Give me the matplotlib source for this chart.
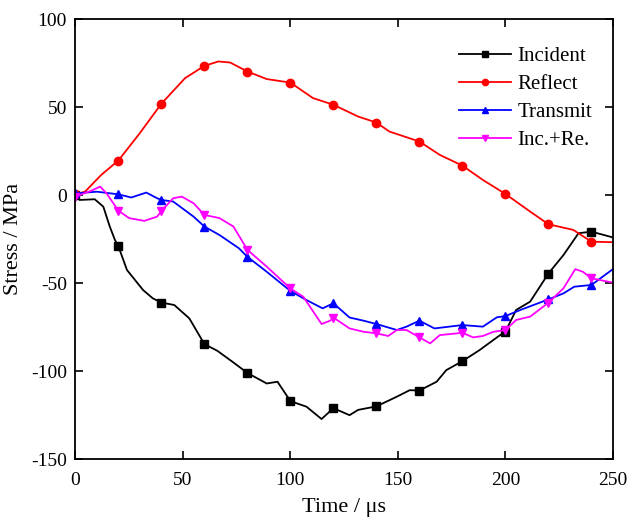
import numpy as np
import matplotlib
matplotlib.use("Agg")
import matplotlib.pyplot as plt

plt.rcParams["font.family"] = ["Liberation Serif", "DejaVu Serif"]
plt.rcParams["axes.unicode_minus"] = False

# Incident
t_inc = [0, 2, 9, 13, 16, 18.4, 20, 24, 31.5, 36, 40, 46, 53, 60, 66, 73, 80, 89, 94,
         100, 107.5, 114.5, 120, 127.5, 131.5, 140, 149.5, 155.5, 160, 168, 172.5, 180,
         188, 196.5, 200, 205, 211.5, 220, 227, 234, 240, 250]
y_inc = [0, -2.7, -2.3, -6.5, -17.8, -25.4, -29, -42.5, -53.9, -58.6, -61, -62.4, -70,
         -84.6, -88.4, -94.6, -101, -107, -106, -117, -120.2, -127.2, -121, -125, -122,
         -120, -114.5, -110.8, -111, -106, -99.4, -94.3, -88, -80.4, -77.5, -65.2, -60.5,
         -44.5, -34, -21.6, -20.7, -24]

# Reflect
t_ref = [0, 4.5, 12, 20, 30, 40, 51, 60, 66.5, 72, 80, 89, 100, 110.5, 120, 131.5, 140,
         146, 160, 169.5, 180, 189.5, 200, 211.5, 220, 231.5, 240, 250]
y_ref = [0.5, 2, 11.5, 19.7, 35.3, 52, 66.5, 73.5, 76, 75.4, 70.3, 66, 64, 55.2, 51.4,
         44.7, 41.3, 36.2, 30.5, 22.9, 16.8, 8.7, 0.7, -9.3, -16.5, -19.7, -26.4, -26.7]

# Transmit
t_tra = [0, 10, 20, 26, 33, 38, 40, 45.5, 55, 60, 67, 76, 80, 89, 100, 107.5, 115, 120,
         127.5, 134, 140, 149.5, 154, 160, 167, 180, 189.5, 196, 200, 207, 220, 227, 232,
         240, 250]
y_tra = [1, 2, 0.5, -1.3, 1.5, -1.7, -2.7, -3.6, -12.2, -17.8, -22.6, -30.1, -35, -43.5,
         -54.4, -59.6, -64.3, -61.4, -69.5, -71.3, -73.2, -76.6, -74.7, -71.3, -75.7,
         -73.8, -74.7, -69.4, -68.7, -65.2, -59.2, -55.8, -52, -51, -42]

# Inc.+Re.
t_sum = [0, 7.5, 11.5, 14.5, 20, 25, 32, 38, 40, 45.5, 49.5, 55, 60, 67, 73.5, 80, 89,
         100, 106, 114.5, 118.5, 120, 127.5, 134, 140, 145.5, 149.5, 154, 160, 165, 169.5,
         180, 185, 189.5, 194.5, 200, 205, 211.5, 220, 227, 232.5, 236, 240, 250]
y_sum = [-0.8, 2.6, 4.9, 1.1, -8.8, -13, -14.6, -12.2, -9, -1.7, -0.8, -4.6, -11.2, -13,
         -17.8, -31, -40.6, -53, -57.7, -73.2, -71.3, -69.5, -75.7, -77.6, -78.5, -80,
         -76.6, -76.6, -80.8, -84.2, -79.5, -78.2, -80.8, -80, -77.6, -76.6, -70.9, -69,
         -61.1, -52.9, -42, -43.5, -47.2, -49.7]

series = [
    (t_inc, y_inc, "Incident", "black", "s"),
    (t_ref, y_ref, "Reflect", "#ff0000", "o"),
    (t_tra, y_tra, "Transmit", "#0000ff", "^"),
    (t_sum, y_sum, "Inc.+Re.", "#ff00ff", "v"),
]

fig = plt.figure(figsize=(6.28, 5.2), dpi=100)
ax = fig.add_axes([0.120, 0.117, 0.856, 0.846])

for t, y, label, color, marker in series:
    t = np.array(t)
    marks = list(np.where(np.isin(t, np.arange(0, 260, 20)))[0])
    ax.plot(t, y, color=color, lw=1.3, marker=marker, ms=6,
            markevery=marks, label=label)

ax.set_xlim(0, 250)
ax.set_ylim(-150, 100)
ax.set_xticks([0, 50, 100, 150, 200, 250])
ax.set_yticks([-150, -100, -50, 0, 50, 100])
ax.tick_params(direction="in", top=True, right=True, labelsize=14, length=6, width=1.2)
ax.tick_params(axis="x", pad=9)
ax.tick_params(axis="y", pad=6)
for s in ax.spines.values():
    s.set_linewidth(1.3)

ax.set_xlabel("Time / μs", fontsize=16, labelpad=7)
ax.set_ylabel("Stress / MPa", fontsize=16, labelpad=6)

ax.legend(loc="upper right", bbox_to_anchor=(1.0, 0.985), frameon=False, fontsize=15,
          handlelength=2.5, handletextpad=0.3, markerscale=0.75, numpoints=1,
          borderaxespad=0.6, labelspacing=0.4)

fig.savefig("out.png", dpi=100)
